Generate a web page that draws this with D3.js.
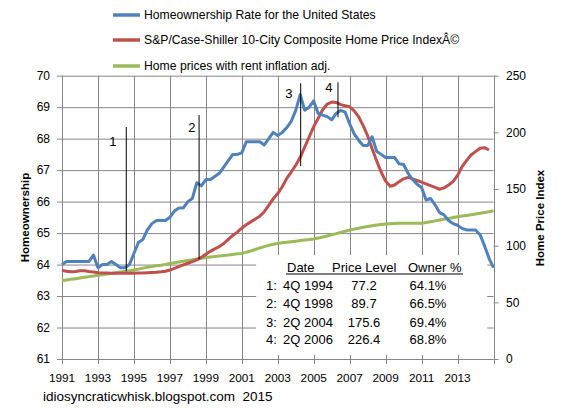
<!DOCTYPE html>
<html><head><meta charset="utf-8">
<script src="https://cdn.jsdelivr.net/npm/d3@7/dist/d3.min.js"></script>
<style>
body{margin:0;background:#fff;}
svg{display:block;font-family:"Liberation Sans",Arial,sans-serif;}
</style>
</head><body>
<svg id="chart" width="563" height="408"></svg>
<script>
// ---------- DATA ----------
const xTickLabels = ["1991","1993","1995","1997","1999","2001","2003","2005","2007","2009","2011","2013"];
const leftTicks = [61,62,63,64,65,66,67,68,69,70];
const rightTicks = [0,50,100,150,200,250];

// quarterly, 1991 Q1 .. 2015 Q1
const homeownership = [
  64.0,64.1,64.1,64.1, 64.1,64.1,64.1,64.3, 63.9,64.0,64.0,64.1, 64.0,63.9,63.9,64.0,
  64.35,64.7,64.8,65.1, 65.3,65.4,65.4,65.4, 65.5,65.7,65.8,65.8, 66.0,66.1,66.6,66.5,
  66.7,66.7,66.8,66.9, 67.1,67.3,67.5,67.5, 67.55,67.9,67.9,67.9, 67.9,67.8,68.0,68.2,
  68.1,68.2,68.35,68.55, 68.9,69.4,68.9,69.0, 69.2,68.8,68.75,68.7, 68.6,68.8,68.9,68.84,
  68.47,68.15,67.95,67.78, 67.78,68.06,67.6,67.5, 67.4,67.4,67.4,67.2, 67.18,66.9,66.7,66.55,
  66.45,66.05,66.1,65.9, 65.65,65.58,65.4,65.3, 65.25,65.15,65.1,65.1, 65.1,64.95,64.6,64.2,
  63.9
];
// quarterly, 1991 Q1 .. 2014 Q4
const caseShiller = [
  78,77.5,77,77.3, 77.8,77.8,77.2,76.7, 76.2,76,75.8,75.6, 75.6,75.6,75.6,75.6,
  75.6,75.8,76,76.2, 76.4,76.6,77,77.5, 78.5,80,81.5,83, 84.5,86,87.5,89.7,
  92.5,95,97.2,99.2, 102,105.5,109,112, 115.5,118.5,121,123.5, 126,130,135.5,141.5,
  146,152,159.4,165, 171,178,187,196, 205,212.4,220,225, 226.7,226.4,224.5,223.5,
  222.6,219,213.8,206, 197,185.5,175,165, 157,152.5,153.5,156.5, 159,160.3,159,157.5,
  156,154.5,153,151.5, 149.8,151,153.5,156.5, 162,169.7,175,180, 183,186,186.5,184.4
];
// quarterly, 1991 Q1 .. 2015 Q1
const rentAdjusted = [
  69.1,69.7,70.3,70.9, 71.5,72.1,72.7,73.2, 73.8,74.4,75.0,75.5, 76.1,76.7,77.3,77.9,
  78.6,79.3,80.2,80.9, 81.6,82.2,82.8,83.5, 84.2,84.9,85.6,86.3, 87.0,87.6,88.3,89.0,
  89.5,90.0,90.4,90.9, 91.4,91.8,92.3,92.8, 93.2,94.2,95.3,96.6, 98.0,99.2,100.3,101.2,
  102.0,102.5,103.0,103.5, 104.0,104.5,105.0,105.4, 105.9,106.7,107.6,108.6, 109.6,110.6,111.7,112.8,
  113.8,114.6,115.4,116.2, 116.9,117.6,118.2,118.7, 119.1,119.4,119.6,119.7, 119.7,119.7,119.7,119.7,
  119.7,120.4,121.1,121.9, 122.6,123.3,124.0,124.8, 125.5,126.1,126.7,127.3, 128.0,128.6,129.3,130.0,
  130.9
];

const seriesNames = [
  "Homeownership Rate for the United States",
  "S&P/Case-Shiller 10-City Composite Home Price IndexÂ©",
  "Home prices with rent inflation adj."
];
const seriesColors = ["#4F81BD","#C0504D","#9BBB59"];

const tableHeader = ["Date","Price Level","Owner %"];
const tableNums = ["1:","2:","3:","4:"];
const tableDates = ["4Q 1994","4Q 1998","2Q 2004","2Q 2006"];
const tablePrices = ["77.2","89.7","175.6","226.4"];
const tableOwner = ["64.1%","66.5%","69.4%","68.8%"];

// annotation markers (quarter index, homeownership-axis units)
const annotLabels = ["1","2","3","4"];
const annotIdx = [14.3,30.5,53.1,61.4];
const annotTop = [68.37,68.75,69.76,69.79];
const annotBottom = [63.79,64.17,67.13,68.68];
const annotLabelIdx = [11.3,28.9,50.5,59.4];
const annotLabelVal = [67.9,68.37,69.44,69.63];

// ---------- CHART ----------
const svg = d3.select("#chart");
const L = 62, R = 493.5, T = 75.7, B = 359;
const nQ = 96;
const x = d3.scaleLinear().domain([0, nQ]).range([L, R]);
const yL = d3.scaleLinear().domain([61, 70]).range([B, T]);
const yR = d3.scaleLinear().domain([0, 250]).range([B, T]);
const grid = "#868686";
const xTickIdx = d3.range(0, nQ + 1, 8);

// gridlines
svg.append("g").selectAll("line").data(leftTicks).join("line")
  .attr("x1", L).attr("x2", R).attr("y1", d => yL(d) + 0.5).attr("y2", d => yL(d) + 0.5)
  .attr("stroke", grid).attr("stroke-width", 1);
svg.append("g").selectAll("line").data(xTickIdx).join("line")
  .attr("x1", d => Math.round(x(d)) + 0.5).attr("x2", d => Math.round(x(d)) + 0.5)
  .attr("y1", T).attr("y2", B + 5)
  .attr("stroke", grid).attr("stroke-width", 1);

// left axis ticks
svg.append("g").selectAll("line").data(leftTicks).join("line")
  .attr("x1", L - 5).attr("x2", L).attr("y1", d => yL(d) + 0.5).attr("y2", d => yL(d) + 0.5)
  .attr("stroke", grid);
// right axis ticks
svg.append("g").selectAll("line").data(rightTicks).join("line")
  .attr("x1", R).attr("x2", R + 5).attr("y1", d => yR(d) + 0.5).attr("y2", d => yR(d) + 0.5)
  .attr("stroke", grid);
// axis lines
svg.append("line").attr("x1", L + 0.5).attr("x2", L + 0.5).attr("y1", T).attr("y2", B + 1).attr("stroke", grid);
svg.append("line").attr("x1", Math.round(R) + 0.5).attr("x2", Math.round(R) + 0.5).attr("y1", T).attr("y2", B + 1).attr("stroke", grid);

// table backing box
svg.append("rect")
  .attr("x", x(43.2)).attr("y", yL(64.3))
  .attr("width", x(94.6) - x(43.2)).attr("height", yL(61.13) - yL(64.3))
  .attr("fill", "#fff");

// data lines
const lineL = d3.line().x((d, i) => x(i)).y(d => yL(d));
const lineR = d3.line().x((d, i) => x(i)).y(d => yR(d));
svg.append("path").datum(rentAdjusted).attr("d", lineR)
  .attr("fill", "none").attr("stroke", seriesColors[2]).attr("stroke-width", 3).attr("stroke-linejoin", "round");
svg.append("path").datum(caseShiller).attr("d", lineR)
  .attr("fill", "none").attr("stroke", seriesColors[1]).attr("stroke-width", 3).attr("stroke-linejoin", "round");
svg.append("path").datum(homeownership).attr("d", lineL)
  .attr("fill", "none").attr("stroke", seriesColors[0]).attr("stroke-width", 3).attr("stroke-linejoin", "round");

// tick labels
svg.append("g").selectAll("text").data(leftTicks).join("text")
  .attr("x", 50).attr("y", d => yL(d)).attr("dy", "0.36em")
  .attr("text-anchor", "end").attr("font-size", 12).attr("fill", "#000").text(d => d);
svg.append("g").selectAll("text").data(rightTicks).join("text")
  .attr("x", 506).attr("y", d => yR(d)).attr("dy", "0.36em")
  .attr("text-anchor", "start").attr("font-size", 12).attr("fill", "#000").text(d => d);
svg.append("g").selectAll("text").data(xTickLabels).join("text")
  .attr("x", (d, i) => x(xTickIdx[i])).attr("y", 381.5)
  .attr("text-anchor", "middle").attr("font-size", 11.8).attr("fill", "#000").text(d => d);

// axis titles
svg.append("text").attr("transform", "translate(29,217.5) rotate(-90)")
  .attr("text-anchor", "middle").attr("font-size", 11.5).attr("font-weight", "bold").text("Homeownership");
svg.append("text").attr("transform", "translate(544,218) rotate(-90)")
  .attr("text-anchor", "middle").attr("font-size", 11.5).attr("font-weight", "bold").text("Home Price Index");

// legend
const legY = [15, 40, 66];
const leg = svg.append("g");
seriesNames.forEach((n, i) => {
  leg.append("line").attr("x1", 113).attr("x2", 140).attr("y1", legY[i]).attr("y2", legY[i])
    .attr("stroke", seriesColors[i]).attr("stroke-width", 3.5);
  leg.append("text").attr("x", 144).attr("y", legY[i]).attr("dy", "0.36em")
    .attr("font-size", 12.2).attr("fill", "#000").text(n);
});

// annotations
const ann = svg.append("g");
annotIdx.forEach((a, i) => {
  ann.append("line").attr("x1", x(a)).attr("x2", x(a))
    .attr("y1", yL(annotTop[i])).attr("y2", yL(annotBottom[i]))
    .attr("stroke", "#000").attr("stroke-width", 1);
  ann.append("text").attr("x", x(annotLabelIdx[i])).attr("y", yL(annotLabelVal[i])).attr("dy", "0.36em")
    .attr("text-anchor", "middle").attr("font-size", 13).attr("fill", "#000").text(annotLabels[i]);
});

// table
const tb = svg.append("g").attr("font-size", 13).attr("fill", "#000");
const hdrX = [287, 332, 408];
tableHeader.forEach((h, i) => {
  tb.append("text").attr("x", hdrX[i]).attr("y", 272).text(h);
});
tb.append("line").attr("x1", 286).attr("x2", 463).attr("y1", 274).attr("y2", 274)
  .attr("stroke", "#000").attr("stroke-width", 1.2);
const rowY = [290, 308.3, 326.7, 344.3];
tableDates.forEach((d, i) => {
  tb.append("text").attr("x", 266).attr("y", rowY[i]).text(tableNums[i]);
  tb.append("text").attr("x", 283).attr("y", rowY[i]).text(d);
  tb.append("text").attr("x", 364).attr("y", rowY[i]).attr("text-anchor", "middle").text(tablePrices[i]);
  tb.append("text").attr("x", 428).attr("y", rowY[i]).attr("text-anchor", "middle").text(tableOwner[i]);
});

// footer
svg.append("text").attr("x", 43).attr("y", 401).attr("font-size", 13.5)
  .style("white-space", "pre").attr("fill", "#000").text("idiosyncraticwhisk.blogspot.com  2015");
</script>
</body></html>
